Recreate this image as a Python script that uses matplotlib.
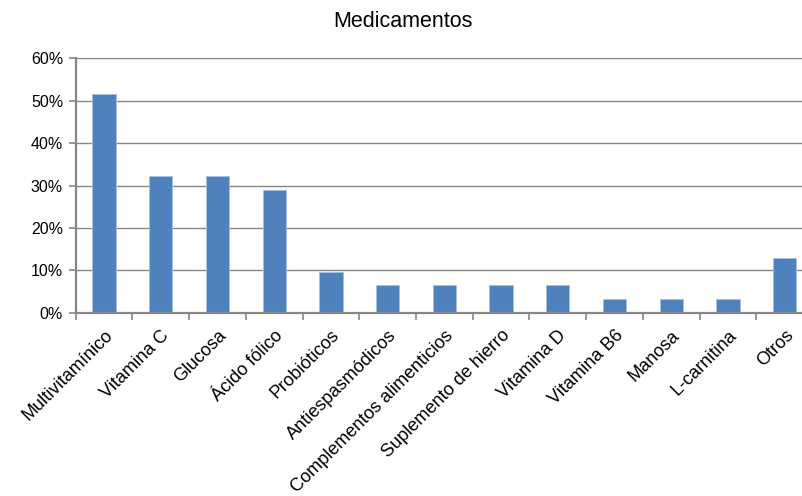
import numpy as np
import matplotlib
matplotlib.use('Agg')
import matplotlib.pyplot as plt
from matplotlib.ticker import FuncFormatter

plt.rcParams['font.family'] = ['Liberation Sans', 'DejaVu Sans']

categorias = ['Multivitamínico', 'Vitamina C', 'Glucosa', 'Ácido fólico', 'Probióticos',
              'Antiespasmódicos', 'Complementos alimenticios', 'Suplemento de hierro',
              'Vitamina D', 'Vitamina B6', 'Manosa', 'L-carnitina', 'Otros']
porcentajes = [51.6, 32.3, 32.3, 29.0, 9.7, 6.5, 6.5, 6.5, 6.5, 3.2, 3.2, 3.2, 12.9]
yticks = [0, 10, 20, 30, 40, 50, 60]

gris = '#868686'

fig = plt.figure(figsize=(8.03, 4.96), dpi=100)
ax = fig.add_axes([0.0941, 0.369, 0.9185, 0.514])

x = np.arange(len(categorias))
ax.bar(x, porcentajes, width=0.41, color='#4F81BD', edgecolor='#A7BFDE', linewidth=0.6, zorder=3)

ax.set_xlim(-0.5, len(categorias) - 0.5)
ax.set_ylim(0, 60)
ax.set_yticks(yticks)
ax.yaxis.set_major_formatter(FuncFormatter(lambda v, p: '%d%%' % v))
ax.grid(axis='y', color=gris, linewidth=1.0, zorder=0)

ax.set_xticks(x)
ax.set_xticklabels(categorias, rotation=45, ha='right', va='top', rotation_mode='anchor', fontsize=13.1)
ax.tick_params(axis='x', which='major', length=0, pad=10)
ax.set_xticks(np.arange(len(categorias) + 1) - 0.5, minor=True)
ax.tick_params(axis='x', which='minor', length=5, width=1.2, color=gris, direction='out')
ax.tick_params(axis='y', length=5, width=1.2, color=gris, labelsize=11.5, pad=4)

for s in ['top', 'right']:
    ax.spines[s].set_visible(False)
for s in ['left', 'bottom']:
    ax.spines[s].set_color(gris)
    ax.spines[s].set_linewidth(1.6)
    ax.spines[s].set_zorder(4)

fig.text(0.502, 0.957, 'Medicamentos', ha='center', va='center', fontsize=15.5)

fig.savefig('out.png', dpi=100)
